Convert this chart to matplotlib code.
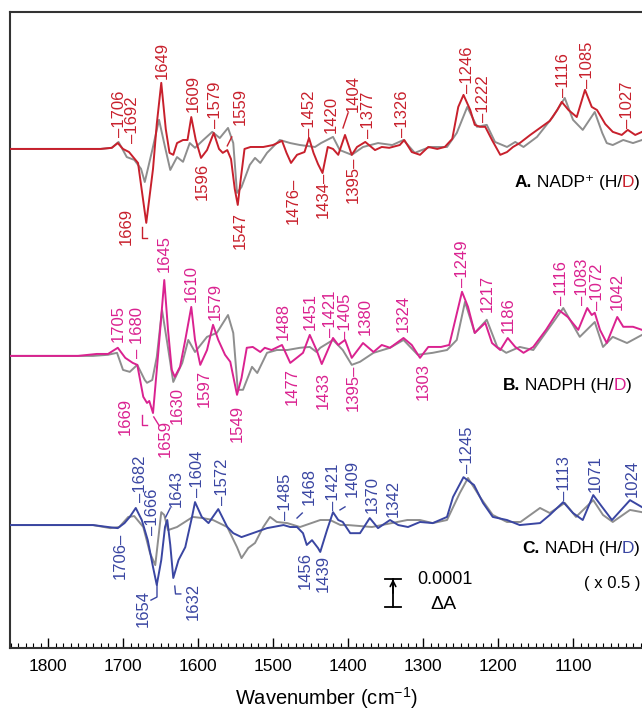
"""
FTIR H/D difference spectra of NADP+, NADPH and NADH
"""
import numpy as np
import matplotlib
matplotlib.use('Agg')  # no display
import matplotlib.pyplot as plt
from matplotlib.ticker import MultipleLocator

plt.rcParams['font.family'] = ['Liberation Sans', 'DejaVu Sans']
plt.rcParams['mathtext.fontset'] = 'custom'
plt.rcParams['mathtext.rm'] = 'Liberation Sans'
plt.rcParams['mathtext.bf'] = 'Liberation Sans:bold'
plt.rcParams['mathtext.it'] = 'Liberation Sans:italic'

# spectra: wavenumber (cm-1) and dA in units of 1e-5
nadp_wn = [1850, 1800, 1760, 1730, 1715, 1707, 1700, 1692, 1680, 1669,
           1660, 1655, 1649, 1643, 1638, 1633, 1628, 1620, 1614, 1609,
           1603, 1596, 1588, 1579, 1572, 1567, 1561, 1556, 1551, 1547,
           1543, 1538, 1530, 1513, 1500, 1488, 1482, 1476, 1468, 1458,
           1452, 1446, 1440, 1434, 1427, 1420, 1413, 1404, 1395, 1388,
           1377, 1364, 1355, 1345, 1331, 1325, 1315, 1304, 1293, 1281,
           1271, 1261, 1253, 1246, 1237, 1231, 1224, 1217, 1208, 1197,
           1188, 1180, 1171, 1157, 1144, 1131, 1121, 1115, 1106, 1095,
           1084, 1075, 1068, 1057, 1047, 1035, 1027, 1017, 1008]
nadp_dA = [0, 0, 0, 0, 0.4, 2.1, 0, -1.1, -5.0, -26.4,
           -7.1, 8.9, 23.6, 7.1, -1.4, -2.1, 2.1, 3.2, 3.2, 11.4,
           3.2, -3.2, -0.4, 5.7, 0, -1.4, -0.4, -3.6, -14.3, -20.0,
           -10.7, 0, 0.7, 0.7, 1.4, 2.9, -1.4, -5.0, -2.1, -1.1,
           3.9, -1.4, -5.4, -8.6, 0.7, 0, -2.1, 5.0, -2.1, 0.7,
           2.5, -0.4, 0.7, 0.4, 1.4, 3.2, -1.1, -2.1, 0.7, 0,
           0.7, 3.6, 15.0, 19.3, 13.9, 8.6, 7.9, 7.9, 3.2, -2.1,
           -1.1, 0.7, 2.1, 5.0, 7.5, 10.0, 13.9, 16.8, 13.9, 11.4,
           21.1, 15.0, 13.9, 8.9, 6.1, 5.0, 6.8, 5.0, 6.1]

nadp_ref_wn = [1850, 1760, 1730, 1715, 1706, 1695, 1685, 1676, 1671, 1661,
               1652, 1644, 1637, 1628, 1620, 1611, 1604, 1593, 1581, 1571,
               1560, 1553, 1548, 1542, 1531, 1524, 1517, 1508, 1491, 1477,
               1464, 1444, 1436, 1420, 1411, 1395, 1380, 1360, 1341, 1326,
               1311, 1291, 1268, 1255, 1241, 1228, 1215, 1204, 1188, 1177,
               1166, 1148, 1127, 1111, 1100, 1087, 1071, 1061, 1055, 1047,
               1033, 1020, 1008]
nadp_ref_dA = [0, 0, 0, 0.4, 2.5, -2.9, -3.9, -7.1, -11.8, -0.4,
               10.4, 0.7, -7.5, -2.9, -4.6, 2.1, 0.4, 3.2, 6.1, 3.9,
               7.5, 2.1, -15.7, -13.6, -5.7, -3.2, -5.0, -1.4, 3.2, 2.1,
               1.4, 0.7, 2.1, 4.3, -0.4, -2.1, 0.7, 2.1, 1.4, 3.2,
               -1.4, 0.7, 0.7, 5.7, 15.0, 7.9, 8.6, 2.5, 0.7, 2.5,
               0.7, 4.3, 11.4, 18.2, 10.4, 6.8, 13.2, 5.7, 2.1, 1.4,
               3.2, 2.1, 3.2]

nadph_wn = [1850, 1760, 1735, 1720, 1707, 1697, 1687, 1681, 1673, 1668,
            1665, 1660, 1653, 1645, 1640, 1635, 1631, 1624, 1617, 1609,
            1604, 1597, 1588, 1580, 1573, 1564, 1557, 1548, 1542, 1535,
            1527, 1517, 1511, 1502, 1488, 1477, 1467, 1460, 1451, 1442,
            1435, 1420, 1413, 1404, 1395, 1380, 1366, 1355, 1344, 1326,
            1315, 1304, 1293, 1276, 1265, 1248, 1240, 1231, 1217, 1208,
            1197, 1187, 1177, 1166, 1153, 1136, 1119, 1107, 1093, 1081,
            1075, 1071, 1064, 1055, 1041, 1033, 1020, 1008]
nadph_dA = [0, 0, 0.7, 0.7, 2.9, -0.7, -2.5, -3.2, -14.6, -16.8,
            -16.1, -20.4, 1.1, 27.1, 9.3, -5.0, -7.5, -3.9, 5.7, 17.5,
            5.7, -3.2, 2.1, 11.1, 5.7, 0.4, -2.1, -13.9, -7.9, 2.9,
            3.2, 1.4, 2.9, 2.1, 3.9, -2.5, -0.4, 1.1, 7.5, 2.1,
            -2.9, 6.4, 3.9, 5.7, -0.7, 4.6, 1.4, 3.9, 2.9, 6.4,
            3.9, -0.7, 3.2, 3.2, 3.9, 22.9, 17.5, 8.2, 11.8, 4.6,
            2.1, 6.4, 3.2, 1.1, 3.2, 9.3, 16.4, 13.9, 9.3, 17.1,
            14.6, 15.4, 9.3, 4.6, 13.9, 10.4, 10.4, 9.3]

nadph_ref_wn = [1850, 1740, 1720, 1708, 1700, 1691, 1681, 1671, 1668, 1661,
                1655, 1648, 1641, 1633, 1621, 1613, 1604, 1588, 1575, 1560,
                1553, 1547, 1540, 1528, 1521, 1508, 1495, 1481, 1464, 1451,
                1442, 1437, 1420, 1407, 1395, 1384, 1366, 1344, 1326, 1307,
                1287, 1268, 1255, 1244, 1231, 1215, 1201, 1189, 1171, 1153,
                1127, 1113, 1091, 1071, 1060, 1047, 1028, 1008]
nadph_ref_dA = [0, 0, 0.4, 1.1, -5.0, -5.7, -3.2, -8.6, -9.6, -8.6,
                -0.4, 16.4, 4.6, -9.3, -2.5, 5.7, 1.4, 6.8, 8.2, 14.6,
                8.2, -12.1, -12.1, -3.9, -6.1, 1.1, 2.1, 2.1, 2.9, 3.2,
                1.4, 2.9, 5.7, 2.1, -3.2, -2.1, 1.1, 2.9, 5.7, 0.4,
                1.1, 2.1, 5.7, 19.3, 8.2, 12.9, 3.2, 1.1, 3.2, 2.1,
                11.8, 17.1, 6.8, 12.1, 3.2, 6.8, 4.6, 7.5]

nadh_wn = [1850, 1740, 1720, 1707, 1698, 1691, 1683, 1675, 1667, 1660,
           1655, 1649, 1644, 1641, 1637, 1633, 1626, 1617, 1608, 1604,
           1595, 1586, 1573, 1561, 1553, 1542, 1527, 1508, 1486, 1477,
           1468, 1460, 1455, 1448, 1440, 1437, 1428, 1420, 1413, 1407,
           1397, 1384, 1371, 1360, 1344, 1333, 1320, 1304, 1287, 1268,
           1260, 1246, 1232, 1220, 1207, 1188, 1171, 1144, 1131, 1113,
           1100, 1087, 1073, 1061, 1048, 1024, 1008]
nadh_dA = [0, 0, -0.7, -1.1, 0.7, 2.9, 6.1, 1.8, -5.4, -15.0,
           -21.4, -12.5, -0.7, 1.8, -7.1, -18.9, -12.5, -7.9, 2.9, 8.2,
           2.9, 0.7, 5.7, -0.7, -2.9, -4.3, -2.9, -1.1, 0, -0.7,
           -0.7, -2.9, -7.1, -5.4, -8.2, -9.6, -1.8, 4.6, 1.8, 1.1,
           -2.9, -2.9, 2.5, -1.1, 1.8, 0, -0.7, 1.1, 0.7, 2.9,
           10.0, 17.1, 14.3, 7.9, 2.9, 1.8, 0, 0.7, 3.6, 8.2,
           4.3, 1.8, 10.7, 6.4, 1.8, 8.9, 6.4]

nadh_ref_wn = [1850, 1740, 1717, 1705, 1693, 1685, 1673, 1664, 1657, 1649,
               1645, 1640, 1628, 1607, 1594, 1580, 1561, 1548, 1542, 1533,
               1524, 1513, 1504, 1495, 1481, 1464, 1437, 1424, 1410, 1400,
               1368, 1355, 1321, 1304, 1287, 1268, 1251, 1240, 1224, 1207,
               1188, 1170, 1144, 1131, 1111, 1096, 1073, 1060, 1047, 1024,
               1008]
nadh_ref_dA = [0, 0, -1.1, -0.7, 2.9, 3.2, -0.7, -10.0, -14.3, 4.6,
               3.6, -1.8, -0.7, 2.9, 2.5, 1.8, -0.7, -7.9, -11.8, -8.2,
               -6.4, -0.7, 2.9, 1.1, 0.7, -0.7, 1.8, 1.8, 0, 0,
               -0.7, 0, 1.8, 1.8, 0.7, 1.8, 11.4, 16.8, 10.0, 3.6,
               1.1, 1.1, 6.1, 4.3, 7.9, 2.9, 8.9, 3.6, 1.1, 5.4,
               4.6]

SCALE_BAR = 10  # 0.0001 dA

# layout / style
RED = '#c8202c'
MAGENTA = '#da2290'
BLUE = '#3a46a2'
GRAY = '#8e8e8e'
OFFSETS = {'A': 178.2, 'B': 104.3, 'C': 43.9}

# peak labels: (text, x, y, side)
labels_a = [
    ('–1706', 1705.3, 182.5, 'up'), ('–1692', 1686.7, 180.4, 'up'),
    ('1649', 1648.0, 203.2, 'up'), ('1609', 1606.7, 191.4, 'up'),
    ('–1579', 1577.3, 185.7, 'up'), ('1559', 1544.0, 186.8, 'up'),
    ('–1452', 1450.7, 182.5, 'up'), ('1420', 1422.7, 183.9, 'up'),
    ('1404', 1393.3, 191.4, 'up'), ('–1377', 1373.3, 182.1, 'up'),
    ('–1326', 1326.7, 182.5, 'up'), ('–1246', 1241.3, 198.2, 'up'),
    ('–1222', 1220.0, 187.9, 'up'), ('–1116', 1113.3, 196.8, 'up'),
    ('–1085', 1081.3, 200.0, 'up'), ('–1027', 1026.7, 185.7, 'up'),
    ('1669', 1696.0, 157.1, 'down'), ('1596', 1594.7, 173.2, 'down'),
    ('1547', 1544.0, 155.7, 'down'), ('1476–', 1473.3, 167.9, 'down'),
    ('1434–', 1433.3, 170.0, 'down'), ('1395–', 1393.3, 175.4, 'down'),
]
labels_b = [
    ('1705', 1706.7, 109.3, 'up'), ('– 1680', 1681.3, 103.6, 'up'),
    ('1645', 1645.3, 134.3, 'up'), ('1610', 1609.3, 123.6, 'up'),
    ('1579', 1577.3, 117.1, 'up'), ('1488', 1486.7, 110.0, 'up'),
    ('1451', 1450.7, 113.6, 'up'), ('–1421', 1424.0, 111.1, 'up'),
    ('–1405', 1404.0, 110.0, 'up'), ('1380', 1377.3, 111.8, 'up'),
    ('1324', 1326.7, 112.9, 'up'), ('–1249', 1246.7, 128.9, 'up'),
    ('1217', 1214.7, 120.0, 'up'), ('1186', 1186.7, 112.5, 'up'),
    ('–1116', 1114.7, 122.5, 'up'), ('–1083', 1086.7, 122.5, 'up'),
    ('–1072', 1066.7, 120.7, 'up'), ('1042', 1041.3, 120.7, 'up'),
    ('1669', 1697.3, 89.3, 'down'), ('1659', 1644.0, 81.4, 'down'),
    ('1630', 1628.0, 93.2, 'down'), ('1597', 1592.0, 99.3, 'down'),
    ('1549', 1548.0, 86.8, 'down'), ('1477', 1474.7, 100.0, 'down'),
    ('1433', 1433.3, 98.6, 'down'), ('1395–', 1393.3, 101.1, 'down'),
    ('1303', 1300.0, 101.8, 'down'),
]
labels_c = [
    ('–1682', 1677.3, 52.1, 'up'), ('–1666', 1661.3, 40.4, 'up'),
    ('1643', 1629.3, 50.4, 'up'), ('–1604', 1601.3, 53.9, 'up'),
    ('–1572', 1568.0, 51.1, 'up'), ('–1485', 1482.7, 45.7, 'up'),
    ('1468', 1452.0, 51.1, 'up'), ('–1421', 1420.0, 49.3, 'up'),
    ('1409', 1394.7, 53.9, 'up'), ('1370', 1368.0, 48.2, 'up'),
    ('1342', 1340.0, 46.8, 'up'), ('–1245', 1241.3, 62.5, 'up'),
    ('–1113', 1110.7, 52.9, 'up'), ('1071', 1070.7, 55.7, 'up'),
    ('1024', 1021.3, 53.9, 'up'),
    ('1706–', 1704.0, 41.1, 'down'), ('1654', 1673.3, 20.7, 'down'),
    ('1632', 1606.7, 23.2, 'down'), ('1456', 1457.3, 34.3, 'down'),
    ('1439', 1433.3, 33.2, 'down'),
]
# little connector hooks between a label and its band
hooks_a = [([1674.7, 1674.7, 1668], [150.4, 146.4, 146.4]),
           ([1561, 1555], [179.3, 182.5]), ([1406.7, 1400], [185.7, 191.0])]
hooks_b = [([1674.7, 1674.7, 1668], [83.2, 79.6, 79.6]),
           ([1659, 1652], [82.5, 79.5])]
hooks_c = [([1643, 1637], [46.8, 50.0]), ([1468, 1461], [46.4, 48.2]),
           ([1410.7, 1404], [49.3, 50.4]),
           ([1654.7, 1654.7, 1662.7], [22.5, 18.2, 17.1]),
           ([1631, 1630, 1623], [22.1, 19.3, 19.3])]

fig = plt.figure(figsize=(6.42, 7.13), dpi=100)
ax = fig.add_axes([10 / 642, 65 / 713, 632 / 642, 636 / 713])

panels = [
    ('A', nadp_wn, nadp_dA, nadp_ref_wn, nadp_ref_dA, RED, labels_a, hooks_a),
    ('B', nadph_wn, nadph_dA, nadph_ref_wn, nadph_ref_dA, MAGENTA, labels_b, hooks_b),
    ('C', nadh_wn, nadh_dA, nadh_ref_wn, nadh_ref_dA, BLUE, labels_c, hooks_c),
]
for key, wn, dA, rwn, rdA, color, labels, hooks in panels:
    off = OFFSETS[key]
    ax.plot(rwn, np.array(rdA) + off, color=GRAY, lw=1.4, zorder=2)
    ax.plot(wn, np.array(dA) + off, color=color, lw=1.4, zorder=3)
    for txt, x, y, side in labels:
        ax.text(x, y, txt, rotation=90, color=color, fontsize=12,
                ha='center', va='bottom' if side == 'up' else 'top')
    for xs, ys in hooks:
        ax.plot(xs, ys, color=color, lw=1.0)

# panel titles: bold letter, name, then "D" coloured like the trace
titles = [
    ('A.', ' NADP⁺ (H/', 1178.5, 166.1, RED),
    ('B.', ' NADPH (H/', 1194.0, 93.9, MAGENTA),
    ('C.', ' NADH (H/', 1167.5, 35.7, BLUE),
]
for letter, name, x, y, color in titles:
    t0 = ax.text(x, y, letter, fontsize=12.5, fontweight='bold',
                 ha='left', va='center')
    t1 = ax.annotate(name, xy=(1, 0), xycoords=t0, fontsize=12.5,
                     ha='left', va='bottom')
    t2 = ax.annotate('D', xy=(1, 0), xycoords=t1, fontsize=12.5,
                     color=color, ha='left', va='bottom')
    ax.annotate(')', xy=(1, 0), xycoords=t2, fontsize=12.5,
                ha='left', va='bottom')
ax.text(1048, 23.2, '( x 0.5 )', fontsize=12, ha='center', va='center')

# scale bar
bx, by = 1340, 14.6
ax.plot([bx, bx], [by, by + SCALE_BAR], color='k', lw=1.3)
ax.plot([bx - 10.7, bx + 10.7], [by, by], color='k', lw=1.3)
ax.plot([bx - 10.7, bx + 10.7], [by + SCALE_BAR] * 2, color='k', lw=1.3)
ax.annotate('', xy=(bx, by + SCALE_BAR), xytext=(bx, by + 5),
            arrowprops=dict(arrowstyle='->', lw=1.2, color='k',
                            shrinkA=0, shrinkB=0))
ax.text(1308, by + SCALE_BAR, '0.0001', fontsize=13, ha='left', va='center')
ax.text(1290.7, 15.4, 'ΔA', fontsize=14, ha='left', va='center')

ax.set_xlim(1850.7, 1008)
ax.set_ylim(0, 227.1)
ax.xaxis.set_major_locator(MultipleLocator(100))
ax.xaxis.set_minor_locator(MultipleLocator(10))
ax.tick_params(axis='x', which='major', direction='in', length=7, width=1.0,
               labelsize=12.5, pad=8, top=False)
ax.tick_params(axis='x', which='minor', direction='in', length=3.5, width=0.8,
               top=False)
ax.set_yticks([])
ax.spines['right'].set_visible(False)
for s in ('left', 'top', 'bottom'):
    ax.spines[s].set_linewidth(1.5)
    ax.spines[s].set_color('#333333')
ax.set_xlabel(r'Wavenumber (cm$^{\mathrm{-1}}$)', fontsize=14.5, labelpad=8)

plt.savefig('out.png', dpi=100)
plt.close()
